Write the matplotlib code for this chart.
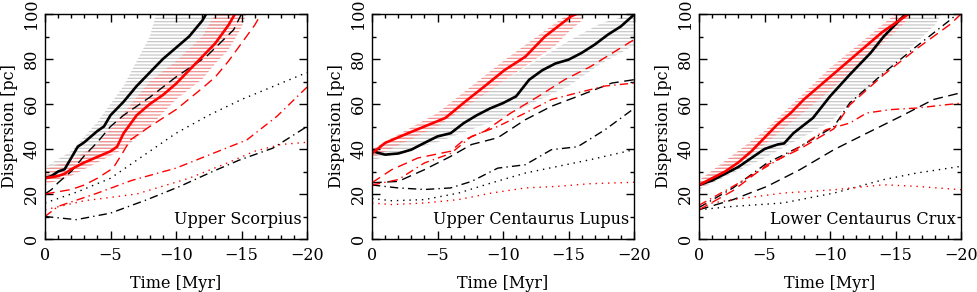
import matplotlib
matplotlib.use('Agg')
import matplotlib.pyplot as plt
from matplotlib.ticker import MultipleLocator

plt.rcParams['font.family'] = 'DejaVu Serif'
plt.rcParams['hatch.linewidth'] = 0.9

# ---------------- Upper Scorpius ----------------
us_black_t = [0, -0.5, -1, -1.5, -2.5, -3, -4, -4.5, -5, -6, -7, -8, -9, -10, -11, -12, -12.3]
us_black = [27, 28, 30, 31, 41, 43, 48, 50, 55, 61, 68, 74, 80, 85, 90, 97, 100]
us_red_t = [0, -1, -1.5, -2, -3, -4, -5, -5.5, -6, -7, -8, -9, -10, -11, -12, -13, -14, -14.5]
us_red = [27, 28, 29, 31, 34, 36.5, 39, 41, 47, 55, 60, 64, 69, 75, 81, 87, 95, 100]
us_gband_t = [0, -2, -4, -6, -8, -8.5, -10, -12, -14, -15]
us_grey_hi = [32, 39, 52, 68, 90, 100, 100, 100, 100, 100]
us_grey_lo = [25, 29, 36, 46, 58, 61, 70, 82, 94, 100]
us_rband_t = [0, -2, -4, -6, -8, -10, -12, -13, -14, -15, -15.4]
us_red_hi = [31, 35, 42, 56, 70, 79, 90, 100, 100, 100, 100]
us_red_lo = [24, 28, 34, 40, 50, 62, 71, 78, 84, 94, 100]
us_dash_k_t = [0, -0.5, -1, -2, -3, -4, -5, -6, -7, -8, -10, -12.3, -14.4, -15]
us_dash_k = [20, 22, 25, 30, 37, 43, 50, 55, 59, 63, 72, 81, 93, 100]
us_dash_r_t = [0, -1, -2, -3, -4, -5.2, -6, -6.5, -8, -10, -12, -13, -14, -15, -16, -16.5]
us_dash_r = [20, 21, 22, 24, 27, 31.5, 39, 44, 50, 57.5, 67, 72, 79, 87, 95, 100]
us_dot_k_t = [0, -2.5, -5, -7.5, -10, -12.5, -15, -17.5, -20]
us_dot_k = [16, 21, 27, 37, 47, 55, 62, 68, 74]
us_dd_r_t = [0, -1, -4, -6.6, -10, -12.8, -15.4, -17.7, -20]
us_dd_r = [10, 14.5, 20.4, 26, 31.5, 38, 44, 54.5, 67.5]
us_dot_r_t = [0, -3, -7, -11, -14, -16, -18, -20]
us_dot_r = [13, 17, 20, 27, 34, 39, 42, 43]
us_dd_k_t = [0, -2.4, -5, -7.8, -10.3, -12.8, -14.8, -17.4, -20]
us_dd_k = [10, 8.6, 11.5, 17.5, 23.4, 30, 35, 40.4, 50]

# ---------------- Upper Centaurus Lupus ----------------
ucl_red_t = [0, -1, -2.5, -4, -5.6, -7.1, -8.6, -10.1, -11.7, -13.2, -15.2, -15.6]
ucl_red = [38, 42.7, 46.4, 50, 53.8, 61, 67.9, 75, 81, 90, 99, 100]
ucl_black_t = [0, -1, -2, -3, -4, -5, -6, -7, -8, -9, -10, -11, -12, -13, -14, -15, -16, -17, -18, -19, -20]
ucl_black = [39, 37.5, 38, 39.7, 42.7, 45.6, 47, 51.5, 55, 58, 60.4, 63.4, 70.8, 75, 78, 79.7, 82.7, 86.4, 90.8, 94.5, 99.7]
ucl_gband_t = [0, -5, -10, -15, -17.5, -20]
ucl_grey_hi = [40, 53, 70, 88, 96, 100]
ucl_grey_lo = [35, 43, 54, 68, 78, 86]
ucl_rband_t = [0, -5, -10, -14, -15, -16]
ucl_red_hi = [40, 56, 79, 96, 100, 100]
ucl_red_lo = [36, 50, 70, 86, 92, 97]
ucl_dash_r_t = [0, -1.5, -3.5, -6, -7, -8.6, -10.6, -12.7, -14.7, -16.7, -20]
ucl_dash_r = [25, 30.8, 36, 39, 44, 47.9, 56, 63.4, 70.8, 76.7, 88.6]
ucl_dash_k_t = [0, -2, -4, -6, -7.6, -9.6, -11.7, -13.7, -15.7, -18.3, -20]
ucl_dash_k = [25, 25.6, 30.8, 36.7, 42, 45, 53, 59, 63.4, 69.3, 70.8]
ucl_dd_r_t = [0, -2, -4, -6, -7.6, -9.6, -11.7, -13.7, -15.7, -17.8, -20]
ucl_dd_r = [24, 26.4, 33.8, 38, 45.6, 50, 56, 62, 65, 68, 69.3]
ucl_dd_k_t = [0, -2, -4, -6, -7.6, -9.6, -11.7, -13.7, -15.7, -17.8, -20]
ucl_dd_k = [24, 22.7, 22, 22.7, 25.6, 31.5, 33, 39.7, 41, 48.6, 58]
ucl_dot_k_t = [0, -1.5, -4, -6.6, -9.1, -11.7, -14.2, -16.7, -20]
ucl_dot_k = [18, 17, 17.5, 20.4, 24.9, 29.3, 32.3, 35.3, 39.7]
ucl_dot_r_t = [0, -1.5, -4, -6.6, -9.1, -11.7, -14.2, -16.7, -20]
ucl_dot_r = [16, 15.3, 16, 17.5, 20.4, 22.7, 23.4, 24.6, 25.2]

# ---------------- Lower Centaurus Crux ----------------
lcc_red_t = [0, -1, -2, -3, -4, -5, -6, -7, -8, -9, -10, -11, -12, -13, -14, -15, -16]
lcc_red = [24, 27, 30, 34, 39, 45, 51, 56, 62, 67, 72, 77, 82, 87, 92, 96, 100]
lcc_black_t = [0, -1, -2, -3, -4, -5, -6, -6.5, -7.2, -8.7, -10, -11.5, -13.1, -14.1, -15.6, -16]
lcc_black = [24, 26, 29, 32, 36, 40, 42, 42.5, 47, 53.8, 63.4, 73, 82.7, 90, 99, 100]
lcc_gband_t = [0, -5, -10, -15, -16, -18, -18.5]
lcc_grey_hi = [26, 45, 72, 98, 100, 100, 100]
lcc_grey_lo = [22, 36, 52, 78, 84, 95, 100]
lcc_rband_t = [0, -5, -10, -15, -16]
lcc_red_hi = [26, 48, 76, 100, 100]
lcc_red_lo = [22, 42, 66, 92, 98]
lcc_dash_k_t = [0, -2.6, -5.2, -7.7, -10.3, -12.8, -15.4, -17.9, -20]
lcc_dash_k = [13, 17.5, 23.4, 30.8, 39.7, 47, 54.5, 62, 65]
lcc_dd_k_t = [0, -2.6, -5.2, -7.7, -10.3, -11.5, -14.1, -16.6, -19.2, -19.7]
lcc_dd_k = [14, 22.7, 33.8, 41, 50, 60.4, 73.8, 85.6, 97.5, 100]
lcc_dash_r_t = [0, -2.6, -5.2, -7.7, -10.3, -11.5, -14.1, -16.6, -19.2, -20]
lcc_dash_r = [13, 21.5, 33, 40, 49, 59.5, 73, 84.5, 95.5, 100]
lcc_dd_r_t = [0, -2.6, -5.2, -7.7, -9.7, -11.5, -12.8, -14.6, -16.6, -20]
lcc_dd_r = [15, 23.4, 32.3, 41, 48.6, 51.5, 56, 57.5, 58.2, 60.4]
lcc_dot_k_t = [0, -2.6, -6.4, -10.3, -14.1, -16.6, -20]
lcc_dot_k = [13, 14.5, 16, 20.4, 26.4, 29.3, 32.3]
lcc_dot_r_t = [0, -2.6, -6.4, -10.3, -14.1, -16.6, -20]
lcc_dot_r = [15, 17.5, 20.4, 21.9, 24.1, 23.4, 21.9]

titles = ['Upper Scorpius', 'Upper Centaurus Lupus', 'Lower Centaurus Crux']

GREY = '#c8c8c8'
PINK = '#f29090'
RED = '#ff0000'

dash = (0, (7, 4))
dashdot = (0, (6, 3, 1, 3))
dot = (0, (1, 3.5))

panels = [
    dict(gband=(us_gband_t, us_grey_lo, us_grey_hi), rband=(us_rband_t, us_red_lo, us_red_hi),
         thin=[(us_dash_k_t, us_dash_k, 'k', dash), (us_dash_r_t, us_dash_r, RED, dash),
               (us_dot_k_t, us_dot_k, 'k', dot), (us_dot_r_t, us_dot_r, RED, dot),
               (us_dd_k_t, us_dd_k, 'k', dashdot), (us_dd_r_t, us_dd_r, RED, dashdot)],
         black=(us_black_t, us_black), red=(us_red_t, us_red)),
    dict(gband=(ucl_gband_t, ucl_grey_lo, ucl_grey_hi), rband=(ucl_rband_t, ucl_red_lo, ucl_red_hi),
         thin=[(ucl_dash_k_t, ucl_dash_k, 'k', dash), (ucl_dash_r_t, ucl_dash_r, RED, dash),
               (ucl_dot_k_t, ucl_dot_k, 'k', dot), (ucl_dot_r_t, ucl_dot_r, RED, dot),
               (ucl_dd_k_t, ucl_dd_k, 'k', dashdot), (ucl_dd_r_t, ucl_dd_r, RED, dashdot)],
         black=(ucl_black_t, ucl_black), red=(ucl_red_t, ucl_red)),
    dict(gband=(lcc_gband_t, lcc_grey_lo, lcc_grey_hi), rband=(lcc_rband_t, lcc_red_lo, lcc_red_hi),
         thin=[(lcc_dash_k_t, lcc_dash_k, 'k', dash), (lcc_dd_k_t, lcc_dd_k, 'k', dashdot),
               (lcc_dash_r_t, lcc_dash_r, RED, dash),
               (lcc_dot_k_t, lcc_dot_k, 'k', dot), (lcc_dot_r_t, lcc_dot_r, RED, dot),
               (lcc_dd_r_t, lcc_dd_r, RED, dashdot)],
         black=(lcc_black_t, lcc_black), red=(lcc_red_t, lcc_red)),
]

fig = plt.figure(figsize=(9.77, 2.92), dpi=100)
lefts = [45, 372, 699]

for i, p in enumerate(panels):
    ax = fig.add_axes([lefts[i] / 977, 1 - 239 / 292, 262 / 977, 225 / 292])

    t, lo, hi = p['gband']
    ax.fill_between(t, lo, hi, facecolor='none', edgecolor=GREY, hatch='-----', linewidth=0)
    t, lo, hi = p['rband']
    ax.fill_between(t, lo, hi, facecolor='none', edgecolor=PINK, hatch='-----', linewidth=0)

    for tt, yy, c, ls in p['thin']:
        ax.plot(tt, yy, color=c, linestyle=ls, linewidth=1.0)

    ax.plot(*p['black'], color='k', linewidth=1.9)
    ax.plot(*p['red'], color=RED, linewidth=1.9)

    ax.set_xlim(0, -20)
    ax.set_ylim(0, 100)
    ax.xaxis.set_major_locator(MultipleLocator(5))
    ax.xaxis.set_minor_locator(MultipleLocator(1))
    ax.yaxis.set_major_locator(MultipleLocator(20))
    ax.yaxis.set_minor_locator(MultipleLocator(10))
    ax.tick_params(which='both', direction='in', top=True, right=True, labelsize=11.5)
    ax.tick_params(which='major', length=6, width=1)
    ax.tick_params(which='minor', length=3, width=1)
    ax.tick_params(axis='x', pad=6)
    for lab in ax.get_yticklabels():
        lab.set_rotation(90)
        lab.set_va('center')
    for sp in ax.spines.values():
        sp.set_linewidth(1.0)

    ax.set_xlabel('Time [Myr]', fontsize=11.5, labelpad=8)
    ax.set_ylabel('Dispersion [pc]', fontsize=11.5, labelpad=4)
    ax.text(0.98, 0.05, titles[i], transform=ax.transAxes, ha='right', va='bottom', fontsize=11.5)

fig.savefig('out.png', dpi=100)
